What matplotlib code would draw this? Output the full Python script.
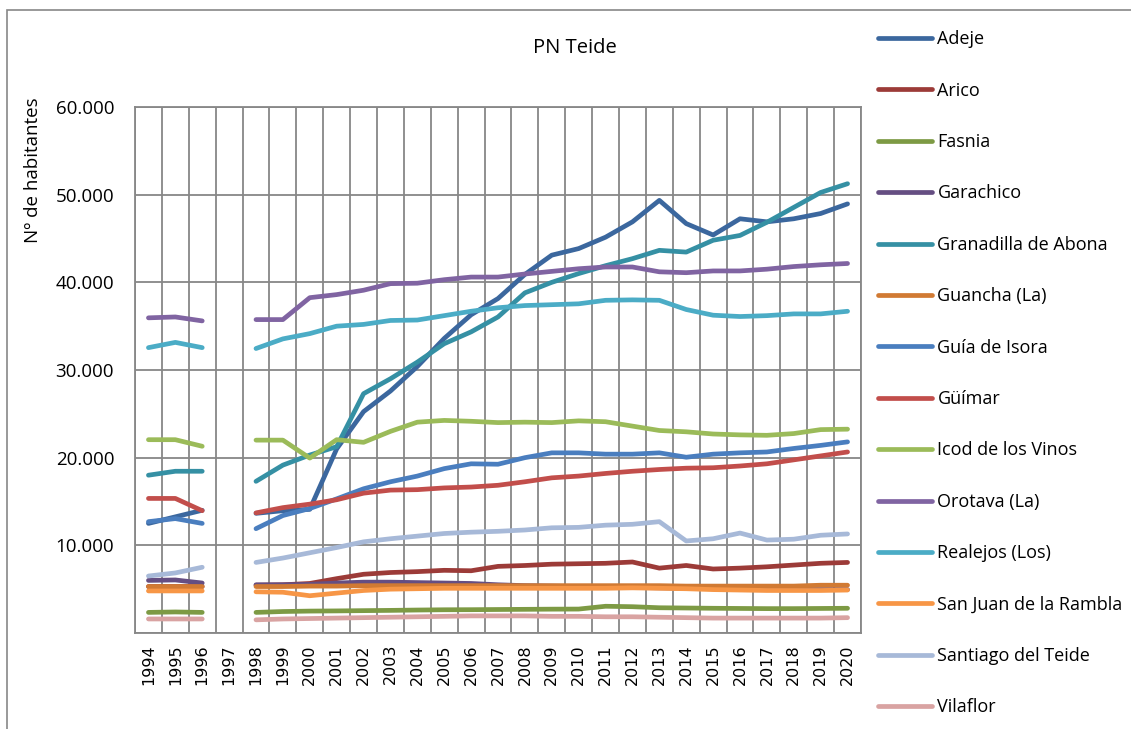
import numpy as np
import matplotlib
matplotlib.use("Agg")
import matplotlib.pyplot as plt
from matplotlib.ticker import FuncFormatter, FixedLocator
from matplotlib.lines import Line2D

nan = np.nan

years = [str(y) for y in range(1994, 2021)]

municipios = [
    "Adeje", "Arico", "Fasnia", "Garachico", "Granadilla de Abona",
    "Guancha (La)", "Guía de Isora", "Güímar", "Icod de los Vinos",
    "Orotava (La)", "Realejos (Los)", "San Juan de la Rambla",
    "Santiago del Teide", "Vilaflor",
]

adeje = [12500, 13250, 14000, nan, 13650, 13950, 14100, 21000, 25250, 27600, 30400, 33600, 36300, 38150,
         40900, 43100, 43850, 45150, 46900, 49350, 46700, 45400, 47250, 46900, 47250, 47850, 48950]
arico = [5300, 5300, 5300, nan, 5450, 5500, 5650, 6200, 6700, 6900, 7000, 7150, 7100, 7600,
         7700, 7850, 7900, 7950, 8100, 7400, 7700, 7300, 7400, 7550, 7750, 7950, 8050]
fasnia = [2350, 2400, 2350, nan, 2350, 2450, 2500, 2520, 2550, 2580, 2620, 2650, 2660, 2680,
          2700, 2720, 2730, 3050, 3000, 2880, 2850, 2820, 2800, 2780, 2780, 2800, 2820]
garachico = [6000, 6050, 5700, nan, 5500, 5500, 5550, 5700, 5800, 5800, 5750, 5700, 5650, 5500,
             5400, 5350, 5300, 5250, 5200, 5150, 5100, 5050, 5000, 5000, 4950, 4950, 4950]
granadilla = [18000, 18450, 18450, nan, 17300, 19150, 20300, 21250, 27300, 29000, 30900, 33000, 34350, 36050,
              38800, 40000, 41000, 41900, 42700, 43650, 43450, 44800, 45350, 46850, 48550, 50250, 51250]
guancha = [5300, 5300, 5300, nan, 5300, 5300, 5350, 5350, 5400, 5400, 5400, 5400, 5400, 5400,
           5400, 5400, 5400, 5400, 5400, 5400, 5350, 5350, 5350, 5350, 5350, 5450, 5450]
guia_isora = [12700, 13050, 12500, nan, 11900, 13400, 14200, 15300, 16450, 17250, 17900, 18750, 19300, 19250,
              20000, 20550, 20550, 20400, 20400, 20550, 20050, 20400, 20550, 20650, 21050, 21400, 21800]
guimar = [15350, 15350, 13950, nan, 13700, 14300, 14700, 15200, 15950, 16300, 16350, 16550, 16650, 16850,
          17250, 17700, 17900, 18200, 18450, 18650, 18800, 18850, 19050, 19300, 19750, 20200, 20650]
icod = [22050, 22050, 21300, nan, 22000, 22000, 19950, 22050, 21750, 23000, 24050, 24250, 24150, 24000,
        24050, 24000, 24200, 24100, 23600, 23100, 22950, 22700, 22600, 22550, 22750, 23200, 23250]
orotava = [35950, 36050, 35600, nan, 35750, 35750, 38250, 38600, 39100, 39850, 39900, 40300, 40600, 40600,
           40950, 41250, 41550, 41750, 41750, 41200, 41100, 41300, 41300, 41500, 41800, 42000, 42150]
realejos = [32550, 33150, 32550, nan, 32450, 33550, 34150, 35000, 35200, 35650, 35700, 36200, 36700, 37100,
            37350, 37450, 37550, 37950, 38000, 37950, 36900, 36250, 36100, 36200, 36400, 36400, 36700]
san_juan = [4800, 4800, 4800, nan, 4700, 4650, 4250, 4550, 4850, 5000, 5050, 5100, 5100, 5100,
            5100, 5100, 5100, 5100, 5150, 5100, 5050, 4950, 4900, 4850, 4850, 4850, 4900]
santiago = [6500, 6850, 7500, nan, 8050, 8550, 9150, 9750, 10400, 10750, 11050, 11350, 11500, 11600,
            11750, 12000, 12050, 12300, 12400, 12700, 10500, 10750, 11400, 10600, 10700, 11150, 11300]
vilaflor = [1600, 1600, 1600, nan, 1500, 1600, 1650, 1700, 1750, 1800, 1850, 1900, 1950, 1950,
            1950, 1900, 1900, 1850, 1850, 1800, 1750, 1700, 1700, 1700, 1700, 1700, 1750]

series = [adeje, arico, fasnia, garachico, granadilla, guancha, guia_isora, guimar,
          icod, orotava, realejos, san_juan, santiago, vilaflor]

colors = ["#3B679E", "#9C3B38", "#7D9A44", "#654E82", "#3590A4", "#D17A33",
          "#4A7EBF", "#C24E4B", "#9BBB59", "#8064A2", "#4BACC6", "#F79646",
          "#A7B9D8", "#D9A3A2"]

W, H = 1131, 729
fig = plt.figure(figsize=(W / 100, H / 100), dpi=100)
fig.patch.set_facecolor("white")

# chart frame
frame = plt.Rectangle((7 / W, -0.05), 1.2, 1 - 10 / H + 0.05, transform=fig.transFigure,
                      fill=False, edgecolor="#878787", linewidth=1.2, zorder=0)
fig.add_artist(frame)

left, right, top, bottom = 135, 861, 107, 633
ax = fig.add_axes([left / W, 1 - bottom / H, (right - left) / W, (bottom - top) / H])

x = np.arange(len(years))
for vals, col in zip(series, colors):
    ax.plot(x, vals, color=col, linewidth=3.4, solid_capstyle="round",
            solid_joinstyle="round", zorder=3)

ax.set_xlim(-0.5, len(years) - 0.5)
ax.set_ylim(0, 60000)

grid_col = "#878787"
for xb in np.arange(-0.5, len(years), 1.0):
    ax.axvline(xb, color=grid_col, linewidth=1.3, zorder=1)
for yv in range(0, 60001, 10000):
    ax.axhline(yv, color=grid_col, linewidth=1.3, zorder=1)
for s in ax.spines.values():
    s.set_color(grid_col)
    s.set_linewidth(1.3)

ax.yaxis.set_major_locator(FixedLocator(range(0, 60001, 10000)))
ax.yaxis.set_major_formatter(FuncFormatter(
    lambda v, p: "" if v == 0 else f"{int(v):,}".replace(",", ".")))
ax.set_xticks(x)
ax.set_xticklabels(years, rotation=90, fontfamily="DejaVu Sans", fontsize=11.5)
ax.tick_params(axis="x", length=0, pad=8)
ax.tick_params(axis="y", length=0, pad=15, labelsize=13.5)
for lbl in ax.get_yticklabels():
    lbl.set_fontfamily("Open Sans")

fig.text(575 / W, 1 - 48 / H, "PN Teide", ha="center", va="center",
         fontsize=14.5, fontfamily="Open Sans")
fig.text(33 / W, 1 - 170 / H, "Nº de habitantes", ha="center", va="center",
         rotation=90, fontsize=13.5, fontfamily="Open Sans")

handles = [Line2D([0], [0], color=c, linewidth=3.4, solid_capstyle="round") for c in colors]
leg = fig.legend(handles, municipios, loc="upper left", bbox_to_anchor=(862 / W, 1 - 14 / H),
                 frameon=False, handlelength=3.0, handletextpad=0.28,
                 labelspacing=1.85, prop={"family": "Open Sans", "size": 13})

fig.savefig("out.png", dpi=100, facecolor="white")
